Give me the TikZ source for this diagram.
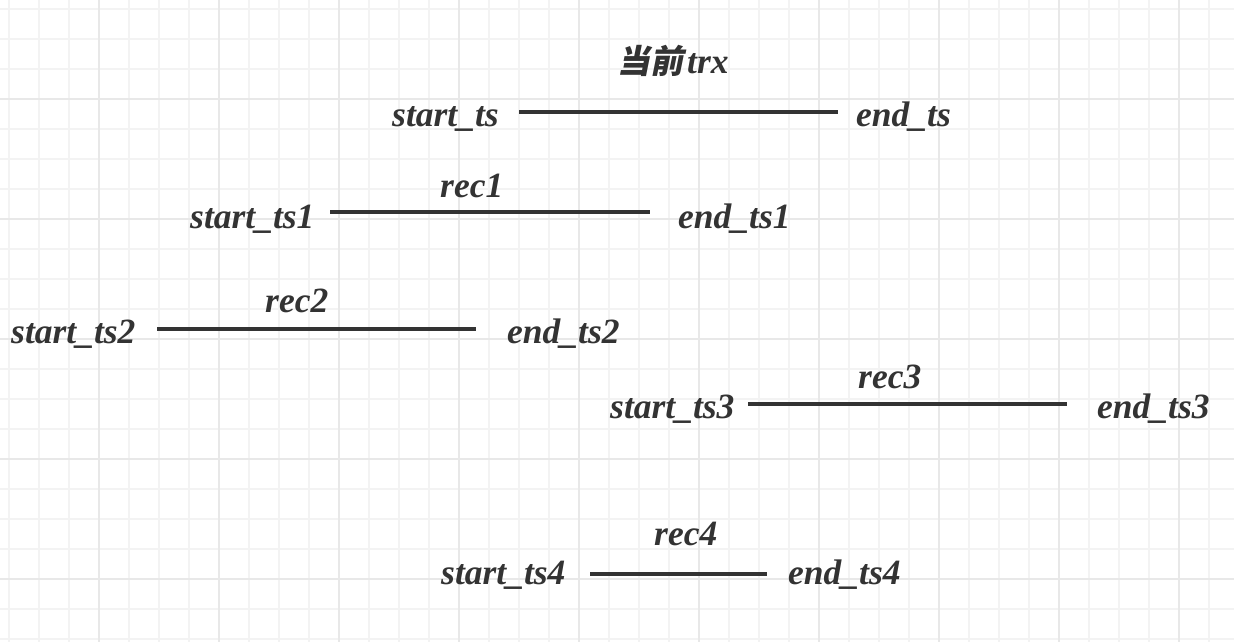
\documentclass[tikz,border=0pt]{standalone}
\usepackage{fontspec}
\setmainfont{Liberation Serif}
\newfontfamily\cjk[FakeSlant=0.2]{Noto Sans CJK SC}
\definecolor{ink}{HTML}{333333}
\definecolor{gridminor}{HTML}{F3F3F3}
\definecolor{gridmajor}{HTML}{E8E8E8}
\tikzset{
  lbl/.style={anchor=base west, inner sep=0pt, text=ink,
    font=\fontsize{35.5}{40}\selectfont\bfseries\itshape},
  bar/.style={draw=ink, line width=4pt},
  gminor/.style={draw=gridminor, line width=2pt},
  gmajor/.style={draw=gridmajor, line width=2pt}
}
\begin{document}
\begin{tikzpicture}[x=1pt,y=-1pt]
\useasboundingbox (0,0) rectangle (1234,642);
\fill[white] (0,0) rectangle (1234,642);
\foreach \g in {9,39,...,1239} \draw[gminor] (\g,0) -- (\g,642);
\foreach \g in {9,39,...,642} \draw[gminor] (0,\g) -- (1234,\g);
\foreach \g in {99,219,...,1234} \draw[gmajor] (\g,0) -- (\g,642);
\foreach \g in {99,219,...,642} \draw[gmajor] (0,\g) -- (1234,\g);

\node[lbl] (t0) at (617,74) {{\cjk\fontsize{33}{40}\selectfont 当前}\hspace{4pt}trx};
\node[lbl] (s0) at (392,126) {start\_ts};
\node[lbl] (e0) at (856,126) {end\_ts};
\coordinate (a0) at (519,112); \coordinate (b0) at (838,112);
\draw[bar] (a0) -- (b0);

\node[lbl] (r1) at (440,197) {rec1};
\node[lbl] (s1) at (190,228) {start\_ts1};
\node[lbl] (e1) at (678,228) {end\_ts1};
\coordinate (a1) at (330,212); \coordinate (b1) at (650,212);
\draw[bar] (a1) -- (b1);

\node[lbl] (r2) at (265,312) {rec2};
\node[lbl] (s2) at (11,343) {start\_ts2};
\node[lbl] (e2) at (507,343) {end\_ts2};
\coordinate (a2) at (157,329); \coordinate (b2) at (476,329);
\draw[bar] (a2) -- (b2);

\node[lbl] (r3) at (858,388) {rec3};
\node[lbl] (s3) at (610,418) {start\_ts3};
\node[lbl] (e3) at (1097,418) {end\_ts3};
\coordinate (a3) at (748,404); \coordinate (b3) at (1067,404);
\draw[bar] (a3) -- (b3);

\node[lbl] (r4) at (654,545) {rec4};
\node[lbl] (s4) at (441,584) {start\_ts4};
\node[lbl] (e4) at (788,584) {end\_ts4};
\coordinate (a4) at (590,574); \coordinate (b4) at (767,574);
\draw[bar] (a4) -- (b4);
\end{tikzpicture}
\end{document}
